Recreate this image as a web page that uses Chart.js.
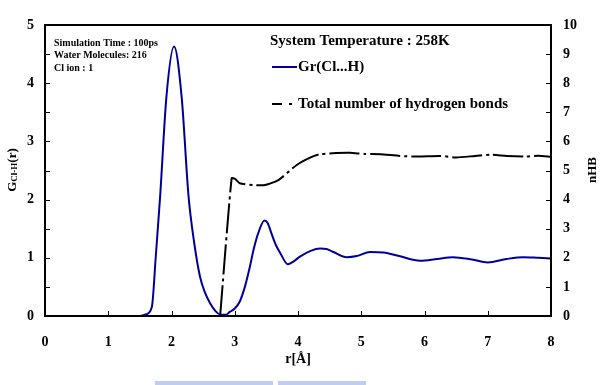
<!DOCTYPE html>
<html>
<head>
<meta charset="utf-8">
<script src="https://cdn.jsdelivr.net/npm/chart.js@4"></script>
<style>
  body { margin: 0; background: #fff; }
  #wrap { width: 611px; height: 385px; }
</style>
</head>
<body>
<div id="wrap"><canvas id="gr-chart" width="611" height="385"></canvas></div>
<script>
// radial distribution function Gr(Cl...H), left axis
var rGr = [0, 1.5, 1.6, 1.69, 1.75, 1.82, 1.92, 2.04, 2.16, 2.27, 2.36, 2.45, 2.53, 2.61, 2.7, 2.79, 2.86, 2.92, 3.0, 3.08, 3.16, 3.24, 3.3, 3.37, 3.47, 3.52, 3.58, 3.65, 3.72, 3.84, 3.92, 4.03, 4.2, 4.35, 4.45, 4.56, 4.77, 4.93, 5.14, 5.35, 5.6, 5.93, 6.2, 6.45, 6.75, 7.0, 7.3, 7.56, 7.8, 8.0];
var gr  = [0, 0, 0.03, 0.16, 1.0, 2.05, 3.77, 4.63, 3.77, 2.05, 1.25, 0.68, 0.4, 0.22, 0.08, 0.02, 0.02, 0.07, 0.13, 0.25, 0.5, 0.85, 1.15, 1.42, 1.64, 1.6, 1.42, 1.22, 1.08, 0.89, 0.93, 1.02, 1.12, 1.16, 1.15, 1.10, 1.01, 1.03, 1.10, 1.09, 1.03, 0.95, 0.98, 1.01, 0.97, 0.92, 0.98, 1.01, 1.0, 0.99];

// total number of hydrogen bonds, right axis
var rHB = [2.77, 2.95, 3.0, 3.08, 3.3, 3.48, 3.69, 3.98, 4.2, 4.35, 4.6, 4.82, 5.05, 5.3, 5.61, 5.9, 6.25, 6.5, 6.8, 7.05, 7.3, 7.6, 7.8, 8.0];
var nHB = [0.03, 4.73, 4.72, 4.56, 4.5, 4.5, 4.67, 5.19, 5.45, 5.56, 5.6, 5.61, 5.57, 5.56, 5.5, 5.48, 5.5, 5.45, 5.5, 5.54, 5.5, 5.48, 5.51, 5.47];

var xTicks = [0, 1, 2, 3, 4, 5, 6, 7, 8];
var infoLines = ['Simulation Time : 100ps', 'Water Molecules: 216', 'Cl ion : 1'];
var tempTitle = 'System Temperature : 258K';
var labelGr = 'Gr(Cl...H)';
var labelHB = 'Total number of hydrogen bonds';

var serif = "'Liberation Serif', 'DejaVu Serif', serif";

function pts(xs, ys) {
    return xs.map(function (x, i) { return { x: x, y: ys[i] }; });
}

// frame, inward ticks, texts and legend drawn on top
var decor = {
    id: 'decor',
    afterDraw: function (chart) {
        var c = chart.ctx, a = chart.chartArea;
        var sx = chart.scales.x, sy = chart.scales.y, sy1 = chart.scales.y1;
        c.save();
        c.strokeStyle = '#000';
        c.lineWidth = 2;
        c.strokeRect(a.left, a.top, a.right - a.left, a.bottom - a.top);

        c.lineWidth = 1;
        c.beginPath();
        for (var v = 0; v <= 5.001; v += 0.5) {
            var py = Math.round(sy.getPixelForValue(v)) + 0.5;
            c.moveTo(a.left, py); c.lineTo(a.left + 5, py);
        }
        for (var w = 0; w <= 10; w++) {
            var py1 = Math.round(sy1.getPixelForValue(w)) + 0.5;
            c.moveTo(a.right, py1); c.lineTo(a.right - 5, py1);
        }
        xTicks.forEach(function (t) {
            var px = Math.round(sx.getPixelForValue(t)) + 0.5;
            c.moveTo(px, a.bottom); c.lineTo(px, a.bottom - 5);
        });
        c.stroke();

        c.fillStyle = '#000';
        c.textBaseline = 'middle';
        c.textAlign = 'left';
        c.font = 'bold 10px ' + serif;
        infoLines.forEach(function (s, i) { c.fillText(s, 54, 43 + i * 12.5); });

        c.font = 'bold 15px ' + serif;
        c.fillText(tempTitle, 270, 41);
        c.fillText(labelGr, 298, 67);
        c.fillText(labelHB, 298, 104);

        c.strokeStyle = '#000099';
        c.lineWidth = 2;
        c.beginPath(); c.moveTo(272, 67); c.lineTo(297, 67); c.stroke();
        c.strokeStyle = '#000';
        c.beginPath(); c.moveTo(272, 104); c.lineTo(282, 104); c.moveTo(289, 104); c.lineTo(292, 104); c.stroke();

        // left axis title with subscript
        c.save();
        c.translate(13, 170);
        c.rotate(-Math.PI / 2);
        c.textAlign = 'left';
        var parts = [['G', 13, 0], ['Cl-H', 9, 2], ['(r)', 13, 0]];
        var tot = 0;
        parts.forEach(function (p) { c.font = 'bold ' + p[1] + 'px ' + serif; tot += c.measureText(p[0]).width; });
        var xx = -tot / 2;
        parts.forEach(function (p) {
            c.font = 'bold ' + p[1] + 'px ' + serif;
            c.fillText(p[0], xx, p[2]);
            xx += c.measureText(p[0]).width;
        });
        c.restore();

        c.save();
        c.translate(593, 170);
        c.rotate(-Math.PI / 2);
        c.textAlign = 'center';
        c.font = 'bold 13px ' + serif;
        c.fillText('nHB', 0, 0);
        c.restore();

        c.textAlign = 'center';
        c.font = 'bold 14px ' + serif;
        c.fillText('r[Å]', (a.left + a.right) / 2, 359);

        c.fillStyle = 'rgba(130,155,230,0.5)';
        c.fillRect(155, 381, 118, 4);
        c.fillRect(278, 381, 88, 4);
        c.restore();
    }
};

var ctx = document.getElementById('gr-chart').getContext('2d');
var myChart = new Chart(ctx, {
    type: 'line',
    data: {
        datasets: [{
            label: labelGr,
            data: pts(rGr, gr),
            borderColor: '#000099',
            borderWidth: 2,
            pointRadius: 0,
            cubicInterpolationMode: 'monotone',
            yAxisID: 'y'
        }, {
            label: labelHB,
            data: pts(rHB, nHB),
            borderColor: '#000',
            borderWidth: 2,
            borderDash: [30, 4, 3, 4],
            pointRadius: 0,
            tension: 0.2,
            yAxisID: 'y1'
        }]
    },
    options: {
        responsive: false,
        animation: false,
        layout: { padding: { top: 25, left: 0, right: 0, bottom: 0 } },
        plugins: {
            legend: { display: false },
            tooltip: { enabled: false }
        },
        scales: {
            x: {
                type: 'linear',
                min: 0, max: 8,
                afterFit: function (s) { s.height = 69; },
                afterBuildTicks: function (s) { s.ticks = xTicks.map(function (v) { return { value: v }; }); },
                grid: { display: false, drawTicks: false },
                border: { display: false },
                ticks: { color: '#000', padding: 18, font: { family: serif, size: 14, weight: 'bold' } }
            },
            y: {
                position: 'left',
                min: 0, max: 5,
                afterFit: function (s) { s.width = 45; },
                grid: { display: false, drawTicks: false },
                border: { display: false },
                ticks: { stepSize: 1, color: '#000', padding: 11, font: { family: serif, size: 14, weight: 'bold' } }
            },
            y1: {
                position: 'right',
                min: 0, max: 10,
                afterFit: function (s) { s.width = 60; },
                grid: { display: false, drawTicks: false },
                border: { display: false },
                ticks: { stepSize: 1, color: '#000', padding: 12, font: { family: serif, size: 14, weight: 'bold' } }
            }
        }
    },
    plugins: [decor]
});
</script>
</body>
</html>
